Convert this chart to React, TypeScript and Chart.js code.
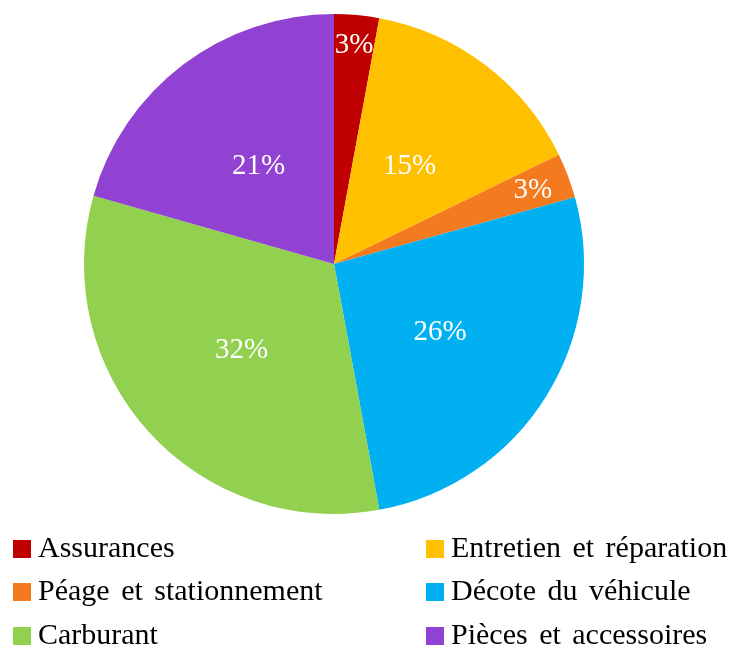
import React, { useEffect, useRef } from "react";
import { Chart, registerables } from "chart.js";

Chart.register(...registerables);

const categories = [
  "Assurances",
  "Entretien et réparation",
  "Péage et stationnement",
  "Décote du véhicule",
  "Carburant",
  "Pièces et accessoires",
];
const shares = [2.9, 14.9, 2.9, 26.4, 32.3, 20.6];
const colors = ["#C00000", "#FFC000", "#F47A20", "#00B0F0", "#92D050", "#9142D2"];

const FONT = "'Liberation Serif', 'Times New Roman', serif";

const labelPlugin = {
  id: "pctLabels",
  afterDatasetsDraw(chart: any) {
    const ctx = chart.ctx;
    const meta = chart.getDatasetMeta(0);
    const data = chart.data.datasets[0].data as number[];
    const total = data.reduce((a, b) => a + b, 0);
    ctx.save();
    ctx.font = `29px ${FONT}`;
    ctx.fillStyle = "#ffffff";
    ctx.textAlign = "center";
    ctx.textBaseline = "middle";
    meta.data.forEach((arc: any, i: number) => {
      const p = arc.getProps(["x", "y", "startAngle", "endAngle", "outerRadius"], true);
      const pct = (data[i] / total) * 100;
      const text = Math.round(pct) + "%";
      const mid = (p.startAngle + p.endAngle) / 2;
      let r = p.outerRadius * 0.5;
      if (pct < 5) {
        const w = ctx.measureText(text).width;
        const h = 24;
        r = p.outerRadius - (Math.abs(Math.cos(mid)) * w) / 2 - (Math.abs(Math.sin(mid)) * h) / 2 - 15;
      }
      ctx.fillText(text, p.x + Math.cos(mid) * r, p.y + Math.sin(mid) * r + 2);
    });
    ctx.restore();
  },
};

export default function App() {
  const ref = useRef<HTMLCanvasElement | null>(null);
  useEffect(() => {
    document.body.style.margin = "0";
    const chart = new Chart(ref.current as HTMLCanvasElement, {
      type: "pie",
      data: {
        labels: categories,
        datasets: [
          {
            data: shares,
            backgroundColor: colors,
            borderWidth: 0,
          },
        ],
      },
      options: {
        animation: false,
        responsive: false,
        maintainAspectRatio: false,
        layout: { padding: { top: 14, bottom: 14, left: 0, right: 0 } },
        plugins: {
          legend: { display: false },
          tooltip: { enabled: false },
        },
      },
      plugins: [labelPlugin],
    });
    return () => chart.destroy();
  }, []);

  const rows = [0, 1, 2];
  return (
    <div style={{ position: "relative", width: 734, height: 648, background: "#fff", fontFamily: FONT }}>
      <canvas ref={ref} width={668} height={528} style={{ position: "absolute", left: 0, top: 0 }} />
      {rows.map((r) =>
        [0, 1].map((c) => {
          const i = r * 2 + c;
          return (
            <div
              key={i}
              style={{
                position: "absolute",
                left: c === 0 ? 13 : 426,
                top: 525 + r * 43.5,
                height: 43,
                display: "flex",
                alignItems: "center",
                fontSize: 30,
                wordSpacing: 4,
                color: "#000",
                whiteSpace: "nowrap",
              }}
            >
              <span
                style={{
                  display: "inline-block",
                  width: 18,
                  height: 18,
                  background: colors[i],
                  marginRight: 7,
                  marginTop: 4,
                }}
              />
              <span>{categories[i]}</span>
            </div>
          );
        })
      )}
    </div>
  );
}
